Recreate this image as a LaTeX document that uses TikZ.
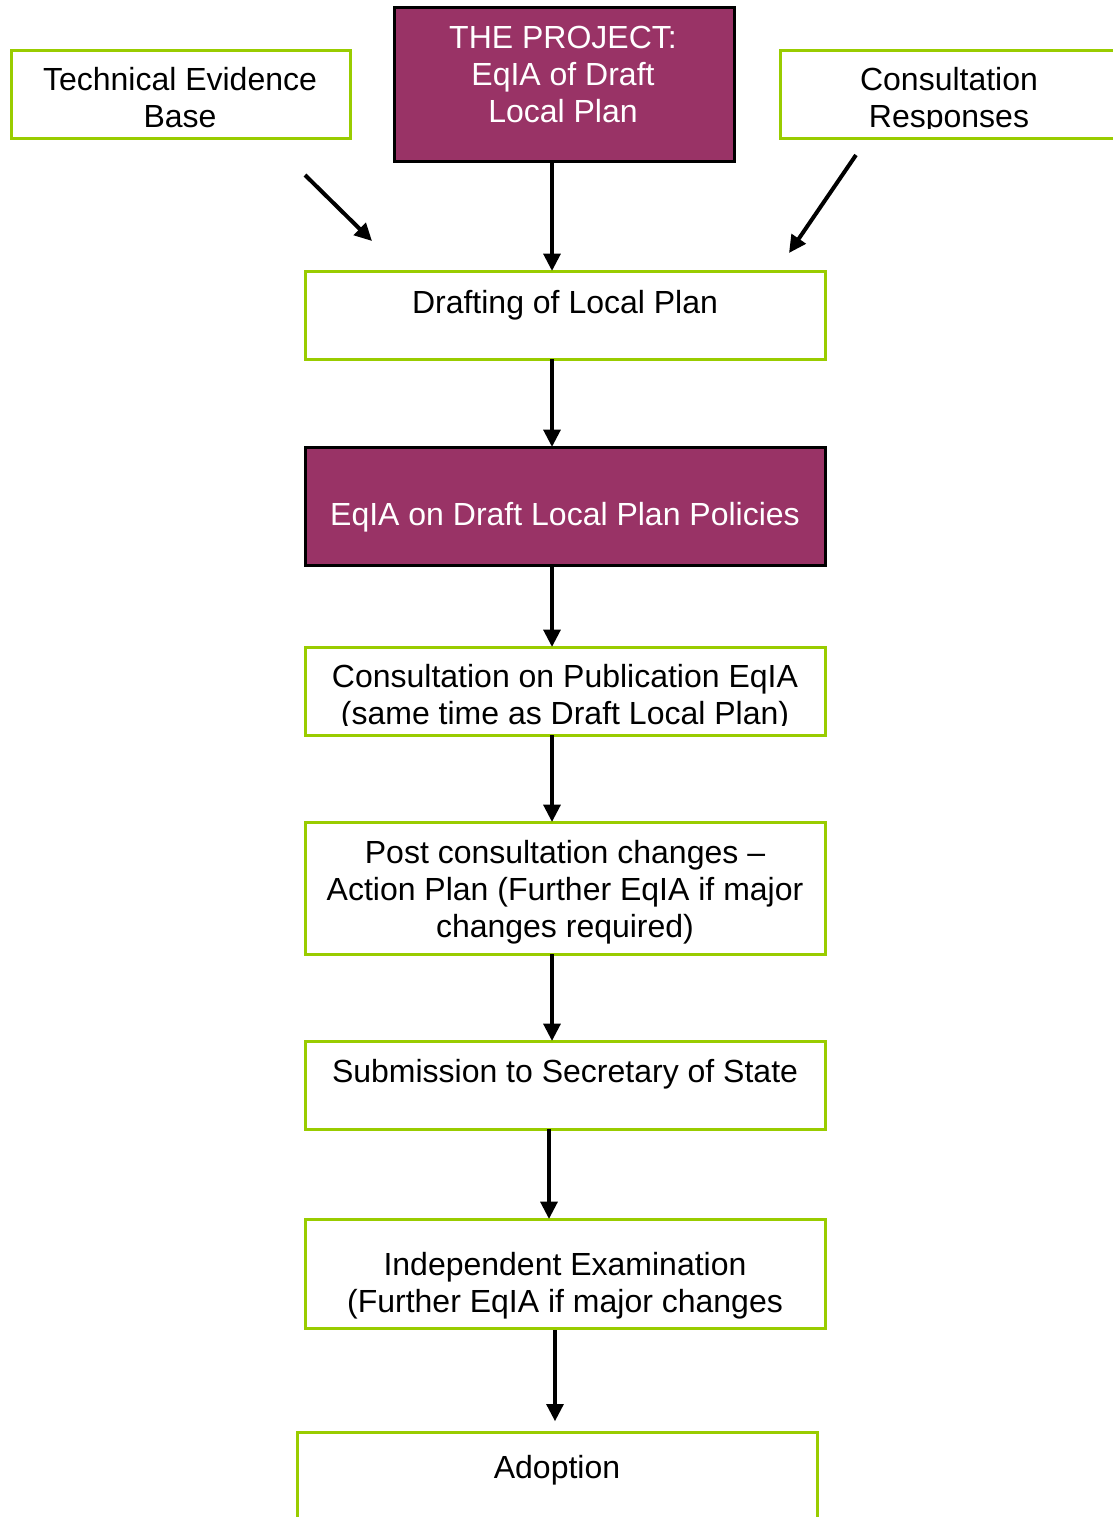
\documentclass[tikz,border=0pt]{standalone}
\usepackage{fontspec}
\setmainfont{Liberation Sans}
\usetikzlibrary{arrows.meta}
\definecolor{lgreen}{RGB}{153,204,0}
\definecolor{plum}{RGB}{153,51,102}
\tikzset{
  gbox/.style={draw=lgreen, line width=2.25pt, fill=white, inner sep=0pt, outer sep=0pt},
  pbox/.style={draw=black, line width=2.25pt, fill=plum, inner sep=0pt, outer sep=0pt},
  txt/.style={font=\fontsize{24}{27.75}\selectfont, align=center, inner sep=0pt, anchor=base},
  wtxt/.style={txt, text=white},
  arr/.style={line width=3pt, -{Triangle[length=13pt,width=12.5pt]}},
}
\begin{document}
\begin{tikzpicture}[x=0.75pt,y=-0.75pt]
\clip (0,0) rectangle (1113,1517);
\fill[white] (0,0) rectangle (1113,1517);
% boxes
\node[gbox, minimum width=339*0.75pt, minimum height=88*0.75pt] (tech) at (180.5,94) {};
\node[pbox, minimum width=340*0.75pt, minimum height=154*0.75pt] (proj) at (564,84) {};
\node[gbox, minimum width=340*0.75pt, minimum height=88*0.75pt] (cresp) at (950,94) {};
\node[gbox, minimum width=520*0.75pt, minimum height=88*0.75pt] (draft) at (565,315) {};
\node[pbox, minimum width=520*0.75pt, minimum height=118*0.75pt] (eqia) at (565,506) {};
\node[gbox, minimum width=520*0.75pt, minimum height=88*0.75pt] (cons) at (565,691) {};
\node[gbox, minimum width=520*0.75pt, minimum height=132*0.75pt] (post) at (565,888) {};
\node[gbox, minimum width=520*0.75pt, minimum height=88*0.75pt] (sub) at (565,1085) {};
\node[gbox, minimum width=520*0.75pt, minimum height=109*0.75pt] (indep) at (565,1273.5) {};
\node[gbox, minimum width=520*0.75pt, minimum height=88*0.75pt] (adopt) at (557,1476) {};
% texts (anchor=base is the baseline of the last line)
\node[txt] (techt) at (180,127) {Technical Evidence\\Base};
\node[wtxt] (projt) at (563,122) {THE PROJECT:\\EqIA of Draft\\Local Plan};
\begin{scope}
\clip (780,50) rectangle (1113,128.5);
\node[txt] (crespt) at (949,127) {Consultation\\Responses};
\end{scope}
\node[txt] (draftt) at (565,313) {Drafting of Local Plan};
\node[wtxt] (eqiat) at (565,525) {EqIA on Draft Local Plan Policies};
\begin{scope}
\clip (305,647) rectangle (825,725.5);
\node[txt] (const) at (565,724) {Consultation on Publication EqIA\\(same time as Draft Local Plan)};
\end{scope}
\node[txt] (postt) at (565,937) {Post consultation changes --\\Action Plan (Further EqIA if major\\changes required)};
\node[txt] (subt) at (565,1082) {Submission to Secretary of State};
\node[txt] (indept) at (565,1312) {Independent Examination\\(Further EqIA if major changes};
\node[txt] (adoptt) at (557,1478) {Adoption};
% arrow columns
\coordinate (xa) at (552,0);
\coordinate (xb) at (549,0);
\coordinate (xc) at (555,0);
\draw[arr] (proj.south -| xa) -- (draft.north -| xa);
\draw[arr] (draft.south -| xa) -- (eqia.north -| xa);
\draw[arr] (eqia.south -| xa) -- (cons.north -| xa);
\draw[arr] (cons.south -| xa) -- (post.north -| xa);
\draw[arr] (post.south -| xa) -- (sub.north -| xa);
\draw[arr] (sub.south -| xb) -- (indep.north -| xb);
\draw[arr, shorten <=1.5pt, shorten >=8pt] (indep.south -| xc) -- (adopt.north -| xc);
% side arrows
\coordinate (ts) at (305,175);
\coordinate (te) at (372,241);
\coordinate (cs) at (856,155);
\coordinate (ce) at (789,253);
\draw[arr] (ts) -- (te);
\draw[arr] (cs) -- (ce);
\end{tikzpicture}
\end{document}
